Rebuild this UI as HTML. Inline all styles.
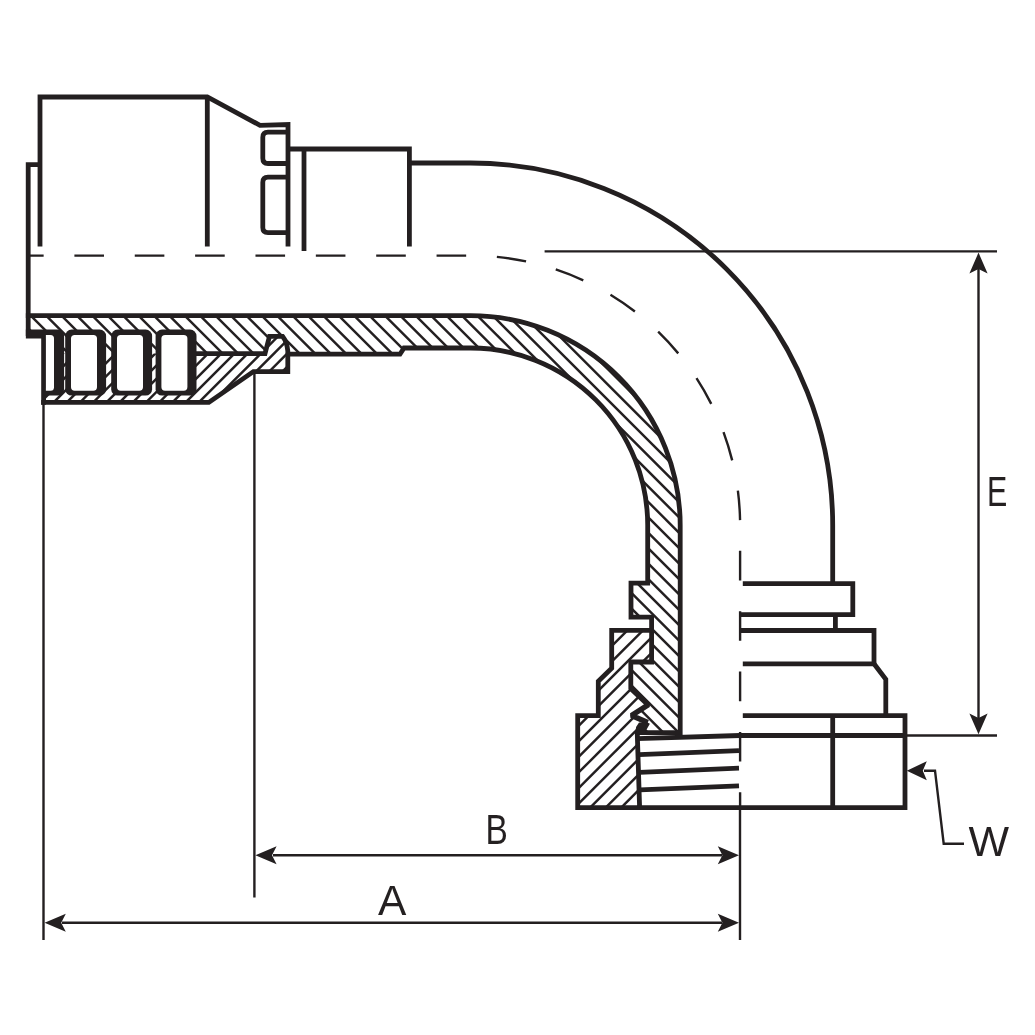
<!DOCTYPE html>
<html><head><meta charset="utf-8"><title>90 degree hose fitting – dimension drawing</title>
<style>
html,body{margin:0;padding:0;background:#fff;}
body{width:1035px;height:1035px;overflow:hidden;font-family:"Liberation Sans",sans-serif;}
svg{display:block;}
</style></head><body>
<svg width="1035" height="1035" viewBox="0 0 1035 1035">
<defs>
<clipPath id="cw"><path d="M28.5,315.6 H470.5 A209.7,209.7 0 0 1 680.2,525.2 V732.6 H641 L643.5,730 L647.8,722.6 L629.8,716.1 L648.3,704.8 L630.8,688.3 V662 H651.6 V617.2 H631 V583.2 H647.7 V525.2 A177.2,177.2 0 0 0 470.5,348.0 H404 L400,354.2 H289 L287.8,351 Q287,342 282.5,336.3 H269.5 L265,353.6 H43.5 V334 H28.5 Z"/></clipPath>
<clipPath id="cf"><path d="M43.5,334 V402.4 H208.8 L253.4,371.6 H287.8 V351 Q287,342 282.5,336.3 H269.5 L265,353.6 H43.5 Z"/></clipPath>
<clipPath id="cn"><path d="M611.7,630.3 H651.6 V662 H630.8 V688.3 L648.3,704.8 L629.8,716.1 L647.8,722.6 L643.5,730 L641,732.6 H637.2 L639.6,807.6 H577.7 V715.6 H598.3 V681.3 L611.7,668.2 Z"/></clipPath>
</defs>
<rect width="1035" height="1035" fill="#fff"/>

<!-- hatching -->
<g stroke="#231f20" stroke-width="2.45" fill="none">
<g clip-path="url(#cw)">
<line x1="-408.10" y1="0" x2="626.90" y2="1035"/>
<line x1="-392.70" y1="0" x2="642.30" y2="1035"/>
<line x1="-377.30" y1="0" x2="657.70" y2="1035"/>
<line x1="-361.90" y1="0" x2="673.10" y2="1035"/>
<line x1="-346.50" y1="0" x2="688.50" y2="1035"/>
<line x1="-331.10" y1="0" x2="703.90" y2="1035"/>
<line x1="-315.70" y1="0" x2="719.30" y2="1035"/>
<line x1="-300.30" y1="0" x2="734.70" y2="1035"/>
<line x1="-284.90" y1="0" x2="750.10" y2="1035"/>
<line x1="-269.50" y1="0" x2="765.50" y2="1035"/>
<line x1="-254.10" y1="0" x2="780.90" y2="1035"/>
<line x1="-238.70" y1="0" x2="796.30" y2="1035"/>
<line x1="-223.30" y1="0" x2="811.70" y2="1035"/>
<line x1="-207.90" y1="0" x2="827.10" y2="1035"/>
<line x1="-192.50" y1="0" x2="842.50" y2="1035"/>
<line x1="-177.10" y1="0" x2="857.90" y2="1035"/>
<line x1="-161.70" y1="0" x2="873.30" y2="1035"/>
<line x1="-146.30" y1="0" x2="888.70" y2="1035"/>
<line x1="-130.90" y1="0" x2="904.10" y2="1035"/>
<line x1="-115.50" y1="0" x2="919.50" y2="1035"/>
<line x1="-100.10" y1="0" x2="934.90" y2="1035"/>
<line x1="-84.70" y1="0" x2="950.30" y2="1035"/>
<line x1="-69.30" y1="0" x2="965.70" y2="1035"/>
<line x1="-53.90" y1="0" x2="981.10" y2="1035"/>
<line x1="-38.50" y1="0" x2="996.50" y2="1035"/>
<line x1="-23.10" y1="0" x2="1011.90" y2="1035"/>
<line x1="-7.70" y1="0" x2="1027.30" y2="1035"/>
<line x1="7.70" y1="0" x2="1042.70" y2="1035"/>
<line x1="23.10" y1="0" x2="1058.10" y2="1035"/>
<line x1="38.50" y1="0" x2="1073.50" y2="1035"/>
<line x1="53.90" y1="0" x2="1088.90" y2="1035"/>
<line x1="69.30" y1="0" x2="1104.30" y2="1035"/>
<line x1="84.70" y1="0" x2="1119.70" y2="1035"/>
<line x1="100.10" y1="0" x2="1135.10" y2="1035"/>
<line x1="115.50" y1="0" x2="1150.50" y2="1035"/>
<line x1="130.90" y1="0" x2="1165.90" y2="1035"/>
<line x1="146.30" y1="0" x2="1181.30" y2="1035"/>
<line x1="161.70" y1="0" x2="1196.70" y2="1035"/>
<line x1="177.10" y1="0" x2="1212.10" y2="1035"/>
<line x1="192.50" y1="0" x2="1227.50" y2="1035"/>
<line x1="207.90" y1="0" x2="1242.90" y2="1035"/>
<line x1="223.30" y1="0" x2="1258.30" y2="1035"/>
<line x1="238.70" y1="0" x2="1273.70" y2="1035"/>
<line x1="254.10" y1="0" x2="1289.10" y2="1035"/>
<line x1="269.50" y1="0" x2="1304.50" y2="1035"/>
<line x1="284.90" y1="0" x2="1319.90" y2="1035"/>
<line x1="300.30" y1="0" x2="1335.30" y2="1035"/>
<line x1="315.70" y1="0" x2="1350.70" y2="1035"/>
<line x1="331.10" y1="0" x2="1366.10" y2="1035"/>
<line x1="346.50" y1="0" x2="1381.50" y2="1035"/>
<line x1="361.90" y1="0" x2="1396.90" y2="1035"/>
<line x1="377.30" y1="0" x2="1412.30" y2="1035"/>
<line x1="392.70" y1="0" x2="1427.70" y2="1035"/>
<line x1="408.10" y1="0" x2="1443.10" y2="1035"/>
<line x1="423.50" y1="0" x2="1458.50" y2="1035"/>
<line x1="438.90" y1="0" x2="1473.90" y2="1035"/>
<line x1="454.30" y1="0" x2="1489.30" y2="1035"/>
<line x1="469.70" y1="0" x2="1504.70" y2="1035"/>
<line x1="485.10" y1="0" x2="1520.10" y2="1035"/>
<line x1="500.50" y1="0" x2="1535.50" y2="1035"/>
</g>
<g clip-path="url(#cf)">
<line x1="297.60" y1="0" x2="-737.40" y2="1035"/>
<line x1="310.80" y1="0" x2="-724.20" y2="1035"/>
<line x1="324.00" y1="0" x2="-711.00" y2="1035"/>
<line x1="337.20" y1="0" x2="-697.80" y2="1035"/>
<line x1="350.40" y1="0" x2="-684.60" y2="1035"/>
<line x1="363.60" y1="0" x2="-671.40" y2="1035"/>
<line x1="376.80" y1="0" x2="-658.20" y2="1035"/>
<line x1="390.00" y1="0" x2="-645.00" y2="1035"/>
<line x1="403.20" y1="0" x2="-631.80" y2="1035"/>
<line x1="416.40" y1="0" x2="-618.60" y2="1035"/>
<line x1="429.60" y1="0" x2="-605.40" y2="1035"/>
<line x1="442.80" y1="0" x2="-592.20" y2="1035"/>
<line x1="456.00" y1="0" x2="-579.00" y2="1035"/>
<line x1="469.20" y1="0" x2="-565.80" y2="1035"/>
<line x1="482.40" y1="0" x2="-552.60" y2="1035"/>
<line x1="495.60" y1="0" x2="-539.40" y2="1035"/>
<line x1="508.80" y1="0" x2="-526.20" y2="1035"/>
<line x1="522.00" y1="0" x2="-513.00" y2="1035"/>
<line x1="535.20" y1="0" x2="-499.80" y2="1035"/>
<line x1="548.40" y1="0" x2="-486.60" y2="1035"/>
<line x1="561.60" y1="0" x2="-473.40" y2="1035"/>
<line x1="574.80" y1="0" x2="-460.20" y2="1035"/>
<line x1="588.00" y1="0" x2="-447.00" y2="1035"/>
<line x1="601.20" y1="0" x2="-433.80" y2="1035"/>
<line x1="614.40" y1="0" x2="-420.60" y2="1035"/>
<line x1="627.60" y1="0" x2="-407.40" y2="1035"/>
<line x1="640.80" y1="0" x2="-394.20" y2="1035"/>
<line x1="654.00" y1="0" x2="-381.00" y2="1035"/>
<line x1="667.20" y1="0" x2="-367.80" y2="1035"/>
<line x1="680.40" y1="0" x2="-354.60" y2="1035"/>
<line x1="693.60" y1="0" x2="-341.40" y2="1035"/>
<line x1="706.80" y1="0" x2="-328.20" y2="1035"/>
<line x1="720.00" y1="0" x2="-315.00" y2="1035"/>
<line x1="733.20" y1="0" x2="-301.80" y2="1035"/>
<line x1="746.40" y1="0" x2="-288.60" y2="1035"/>
<line x1="759.60" y1="0" x2="-275.40" y2="1035"/>
<line x1="772.80" y1="0" x2="-262.20" y2="1035"/>
<line x1="786.00" y1="0" x2="-249.00" y2="1035"/>
<line x1="799.20" y1="0" x2="-235.80" y2="1035"/>
<line x1="812.40" y1="0" x2="-222.60" y2="1035"/>
</g>
<g clip-path="url(#cn)">
<line x1="1086.75" y1="0" x2="51.75" y2="1035"/>
<line x1="1102.30" y1="0" x2="67.30" y2="1035"/>
<line x1="1117.85" y1="0" x2="82.85" y2="1035"/>
<line x1="1133.40" y1="0" x2="98.40" y2="1035"/>
<line x1="1148.95" y1="0" x2="113.95" y2="1035"/>
<line x1="1164.50" y1="0" x2="129.50" y2="1035"/>
<line x1="1180.05" y1="0" x2="145.05" y2="1035"/>
<line x1="1195.60" y1="0" x2="160.60" y2="1035"/>
<line x1="1211.15" y1="0" x2="176.15" y2="1035"/>
<line x1="1226.70" y1="0" x2="191.70" y2="1035"/>
<line x1="1242.25" y1="0" x2="207.25" y2="1035"/>
<line x1="1257.80" y1="0" x2="222.80" y2="1035"/>
<line x1="1273.35" y1="0" x2="238.35" y2="1035"/>
<line x1="1288.90" y1="0" x2="253.90" y2="1035"/>
<line x1="1304.45" y1="0" x2="269.45" y2="1035"/>
<line x1="1320.00" y1="0" x2="285.00" y2="1035"/>
<line x1="1335.55" y1="0" x2="300.55" y2="1035"/>
<line x1="1351.10" y1="0" x2="316.10" y2="1035"/>
<line x1="1366.65" y1="0" x2="331.65" y2="1035"/>
<line x1="1382.20" y1="0" x2="347.20" y2="1035"/>
<line x1="1397.75" y1="0" x2="362.75" y2="1035"/>
<line x1="1413.30" y1="0" x2="378.30" y2="1035"/>
<line x1="1428.85" y1="0" x2="393.85" y2="1035"/>
<line x1="1444.40" y1="0" x2="409.40" y2="1035"/>
<line x1="1459.95" y1="0" x2="424.95" y2="1035"/>
<line x1="1475.50" y1="0" x2="440.50" y2="1035"/>
<line x1="1491.05" y1="0" x2="456.05" y2="1035"/>
<line x1="1506.60" y1="0" x2="471.60" y2="1035"/>
</g>
</g>

<!-- thin dimension / extension lines -->
<g stroke="#231f20" stroke-width="2.4" fill="none">
<path d="M43.5,402 V940"/>
<path d="M254.4,372 V897.5"/>
<path d="M740,808 V940"/>
<path d="M62,922.8 H722"/>
<path d="M273,855.3 H722"/>
<path d="M544.6,251.4 H997"/>
<path d="M905,735.5 H997"/>
<path d="M978.5,268 V718"/>
<path d="M924,770.7 H935 L943.7,843.7 H964"/>
</g>
<!-- arrow heads -->
<g fill="#231f20" stroke="none">
<path d="M44.6,922.8 L65.8,913.8 L61.2,922.8 L65.8,931.8 Z"/>
<path d="M739,922.8 L717.8,913.8 L722.4,922.8 L717.8,931.8 Z"/>
<path d="M255.4,855.3 L276.6,846.3 L272,855.3 L276.6,864.3 Z"/>
<path d="M739,855.3 L717.8,846.3 L722.4,855.3 L717.8,864.3 Z"/>
<path d="M978.5,252.6 L969.4,273.4 L978.5,269 L987.6,273.4 Z"/>
<path d="M978.5,734.3 L969.4,713.5 L978.5,717.9 L987.6,713.5 Z"/>
<path d="M906.8,770.7 L926.8,761.2 L922.8,770.7 L926.8,780.2 Z"/>
</g>

<!-- centre line (dashed) -->
<path d="M28.5,255.6 H470.5 A269.6,269.6 0 0 1 740.1,525.2 V808" fill="none" stroke="#231f20" stroke-width="2.4" stroke-dasharray="29.6 30.76" stroke-dashoffset="14.46"/>

<!-- heavy outlines -->
<g stroke="#231f20" stroke-width="4.8" fill="none" stroke-linejoin="miter" stroke-miterlimit="10">
<!-- socket -->
<path d="M40,246.6 V97 H207.3 L260,125.3 L288,124.5 V246.6"/>
<path d="M207.3,97 V246.6"/>
<path d="M40,164.6 H28.2 V336"/>
<path d="M288,132.2 H268 Q262.8,132.2 262.8,137.4 V158.3 Q262.8,163.5 268,163.5 H288"/>
<path d="M288,177.2 H268 Q262.8,177.2 262.8,182.4 V227.5 Q262.8,232.7 268,232.7 H288"/>
<path d="M288,149 H409.4 V246.4"/>
<path d="M304,149 V251"/>
<!-- elbow outer -->
<path d="M409.4,163 H470.5 A362.2,362.2 0 0 1 832.7,525.2 V583.6"/>
<!-- wall outline -->
<path d="M25.85,315.6 H470.5 A209.7,209.7 0 0 1 680.2,525.2 V732.6 H639"/>
<path d="M196,353.6 H265 L269.5,336.3 H282.5 Q287,342 287.8,351 V371.6 H253.4 L208.8,402.4 H41.2"/>
<path d="M287.8,354.2 H400 L404,348.0 H470.5 A177.2,177.2 0 0 1 647.7,525.2 V583.2 H631 V617.2 H651.6 V662 H630.8 V689.5"/>
<path d="M647.8,722.6 L643.5,730 L641,732.6" stroke-linejoin="bevel"/>
<path d="M43.6,334 V404.75"/>
<!-- nut -->
<path d="M651.6,630.3 H611.7 V668.2 L598.3,681.3 V715.6 H577.7 V807.6 H905 V715.6 H742.8"/>
<path d="M637.2,731 L639.6,807.6"/>
<path d="M630.8,688.3 L648.3,704.8 L631.5,715.6 L647.8,722.6" stroke-width="5.4" stroke-linejoin="bevel"/>
<path d="M639,722.4 L647.8,722.6 L644.6,730 L646.5,734 L635,734.6 L636.1,727 Z" fill="#231f20" stroke="none"/>
<path d="M637,738.6 L740,735.5 H905"/>
<path d="M639,754.7 L739,750.6"/>
<path d="M639.5,772.3 L739,768.1"/>
<path d="M640,789.8 L739,785.8"/>
<path d="M832.7,715.6 V807.6"/>
<!-- right side nipple -->
<path d="M742.8,583.6 H852.8 V614.7 H740"/>
<path d="M835.4,614.7 V630.5"/>
<path d="M740,630.5 H874 V663.8 H742.8"/>
<path d="M874,663.8 L885.8,679.4 V715.6"/>
</g>
<!-- rings -->
<g stroke="none">
<path d="M25.85,329.6 H57.6 Q64.1,329.6 64.1,336 V389.2 Q64.1,395.6 57.6,395.6 H43.5 V338.5 H25.85 Z" fill="#231f20"/>
<path d="M45.9,334.9 H50.5 Q54,334.9 54,338.4 V387.3 Q54,390.8 50.5,390.8 H45.9 Z" fill="#fff"/>
<rect x="65.20" y="329.6" width="40.9" height="66" rx="6.4" ry="6.4" fill="#231f20"/>
<rect x="71.00" y="334.9" width="26" height="55.9" rx="3.7" ry="3.7" fill="#fff"/>
<rect x="111.20" y="329.6" width="40.9" height="66" rx="6.4" ry="6.4" fill="#231f20"/>
<rect x="117.00" y="334.9" width="26" height="55.9" rx="3.7" ry="3.7" fill="#fff"/>
<rect x="155.60" y="329.6" width="40.9" height="66" rx="6.4" ry="6.4" fill="#231f20"/>
<rect x="161.40" y="334.9" width="26" height="55.9" rx="3.7" ry="3.7" fill="#fff"/>
</g>

<!-- labels -->
<g fill="#231f20" font-family="'Liberation Sans', sans-serif" font-size="40" opacity="0.995">
<text transform="translate(378.0,914.9) scale(1.063,1.04)">A</text>
<text transform="translate(485.6,844.1) scale(0.835,1.04)">B</text>
<text transform="translate(987.0,506.0) scale(0.76,1.04)">E</text>
<text transform="translate(968.6,856.0) scale(1.075,1.045)">W</text>
</g>
</svg>
</body></html>
